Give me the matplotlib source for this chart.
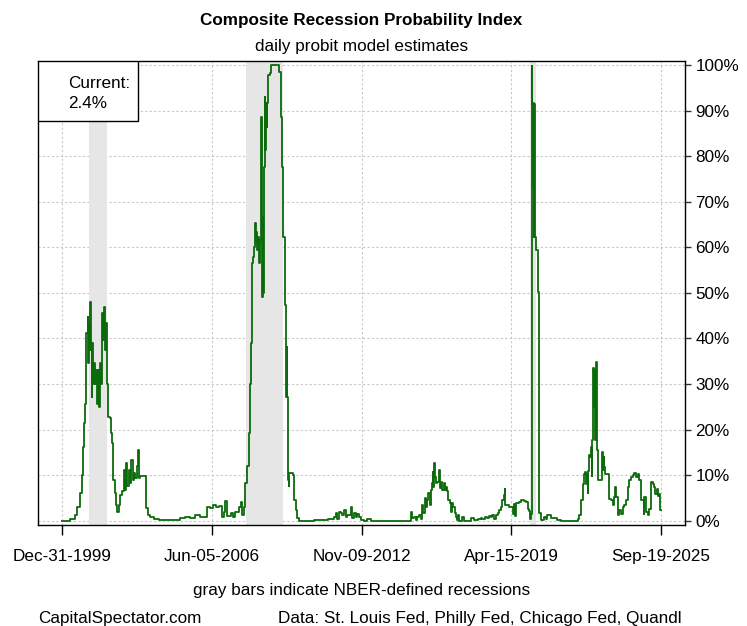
import matplotlib
matplotlib.use("Agg")
import matplotlib.pyplot as plt
from matplotlib.patches import Rectangle
import pandas as pd

plt.rcParams["font.family"] = ["Liberation Sans", "DejaVu Sans"]

TITLE = "Composite Recession Probability Index"
SUBTITLE = "daily probit model estimates"
XLABEL = "gray bars indicate NBER-defined recessions"
SOURCE_LEFT = "CapitalSpectator.com"
SOURCE_RIGHT = "Data: St. Louis Fed, Philly Fed, Chicago Fed, Quandl"

# probability estimates (%)
DATES = [
    "1999-12-31", "2000-05-09", "2000-07-27", "2000-08-22", "2000-10-13", "2000-11-08",
    "2000-11-24", "2000-12-15", "2000-12-31", "2001-01-16", "2001-02-06", "2001-02-17",
    "2001-02-27", "2001-03-10", "2001-03-20", "2001-03-31", "2001-04-10", "2001-04-21",
    "2001-05-06", "2001-05-22", "2001-06-07", "2001-06-22", "2001-07-08", "2001-07-24",
    "2001-08-09", "2001-08-24", "2001-09-09", "2001-09-25", "2001-10-11", "2001-10-21",
    "2001-11-06", "2001-11-22", "2001-12-07", "2001-12-28", "2002-01-18", "2002-02-08",
    "2002-03-01", "2002-03-16", "2002-04-06", "2002-04-27", "2002-05-18", "2002-06-08",
    "2002-07-04", "2002-07-30", "2002-08-25", "2002-09-09", "2002-09-30", "2002-10-21",
    "2002-11-11", "2002-12-02", "2002-12-23", "2003-01-13", "2003-02-03", "2003-02-24",
    "2003-03-17", "2003-04-07", "2003-04-23", "2003-05-14", "2003-08-11", "2003-09-06",
    "2003-10-18", "2003-12-20", "2004-02-26", "2005-01-31", "2005-04-19", "2005-07-07",
    "2005-09-23", "2005-12-11", "2006-03-25", "2006-05-17", "2006-06-28", "2006-08-09",
    "2006-09-25", "2006-11-16", "2006-12-12", "2007-01-07", "2007-02-02", "2007-03-27",
    "2007-05-02", "2007-06-13", "2007-08-05", "2007-08-31", "2007-09-26", "2007-10-22",
    "2007-11-17", "2007-12-13", "2008-01-09", "2008-01-24", "2008-02-04", "2008-02-20",
    "2008-03-17", "2008-04-02", "2008-04-12", "2008-04-23", "2008-05-03", "2008-05-19",
    "2008-06-04", "2008-06-19", "2008-06-30", "2008-07-10", "2008-07-21", "2008-07-26",
    "2008-07-31", "2008-08-06", "2008-08-16", "2008-08-21", "2008-09-01", "2008-09-11",
    "2008-09-22", "2008-10-02", "2008-10-13", "2008-10-23", "2008-11-08", "2008-11-29",
    "2008-12-14", "2009-04-09", "2009-04-25", "2009-05-21", "2009-06-11", "2009-07-02",
    "2009-07-28", "2009-08-13", "2009-08-18", "2009-08-23", "2009-08-28", "2009-09-13",
    "2009-09-23", "2009-10-04", "2009-12-06", "2009-12-15", "2010-01-11", "2010-02-07",
    "2010-03-04", "2010-10-24", "2011-02-15", "2011-06-10", "2011-09-02", "2011-09-29",
    "2011-10-26", "2011-11-20", "2011-12-16", "2012-01-12", "2012-02-06", "2012-03-04",
    "2012-03-31", "2012-05-21", "2012-06-06", "2012-07-12", "2012-08-08", "2012-09-04",
    "2012-09-29", "2012-10-25", "2012-12-16", "2013-02-08", "2013-03-31", "2014-12-20",
    "2015-01-05", "2015-02-10", "2015-03-09", "2015-04-04", "2015-04-30", "2015-05-26",
    "2015-06-22", "2015-07-08", "2015-07-28", "2015-08-13", "2015-09-09", "2015-09-24",
    "2015-10-15", "2015-10-30", "2015-11-15", "2015-12-01", "2015-12-12", "2015-12-21",
    "2016-01-06", "2016-01-22", "2016-02-12", "2016-03-09", "2016-03-25", "2016-04-15",
    "2016-05-01", "2016-05-26", "2016-06-11", "2016-07-03", "2016-07-19", "2016-08-03",
    "2016-08-24", "2016-09-08", "2016-09-19", "2016-10-05", "2016-10-21", "2016-11-10",
    "2016-12-01", "2016-12-23", "2017-01-01", "2017-01-23", "2017-03-11", "2017-04-05",
    "2017-07-19", "2017-09-09", "2017-11-02", "2017-12-23", "2018-01-19", "2018-02-24",
    "2018-03-28", "2018-05-03", "2018-05-29", "2018-06-25", "2018-07-20", "2018-08-16",
    "2018-09-12", "2018-10-07", "2018-11-02", "2018-11-29", "2018-12-15", "2019-01-04",
    "2019-01-15", "2019-03-13", "2019-05-05", "2019-05-15", "2019-05-30", "2019-06-15",
    "2019-06-26", "2019-08-17", "2019-09-12", "2019-11-03", "2019-11-30", "2019-12-27",
    "2020-01-21", "2020-02-06", "2020-02-17", "2020-02-27", "2020-03-03", "2020-03-10",
    "2020-03-17", "2020-03-24", "2020-03-31", "2020-04-07", "2020-04-14", "2020-04-21",
    "2020-04-28", "2020-05-10", "2020-05-31", "2020-07-01", "2020-07-21", "2020-09-11",
    "2020-10-05", "2020-11-03", "2020-12-25", "2021-04-09", "2021-05-31", "2022-01-23",
    "2022-02-19", "2022-03-16", "2022-04-11", "2022-05-08", "2022-05-24", "2022-06-13",
    "2022-06-29", "2022-07-15", "2022-07-26", "2022-08-04", "2022-08-20", "2022-09-05",
    "2022-09-15", "2022-09-26", "2022-10-06", "2022-10-17", "2022-11-01", "2022-11-12",
    "2022-11-22", "2022-12-03", "2022-12-14", "2022-12-24", "2022-12-30", "2023-02-19",
    "2023-03-02", "2023-03-18", "2023-04-03", "2023-04-12", "2023-04-28", "2023-06-05",
    "2023-06-30", "2023-07-26", "2023-08-22", "2023-09-16", "2023-10-02", "2023-10-18",
    "2023-11-09", "2023-12-04", "2023-12-30", "2024-01-26", "2024-02-20", "2024-03-18",
    "2024-04-14", "2024-05-09", "2024-06-04", "2024-07-01", "2024-07-26", "2024-08-22",
    "2024-09-18", "2024-10-13", "2024-11-08", "2024-12-05", "2024-12-21", "2024-12-30",
    "2025-01-26", "2025-02-22", "2025-03-19", "2025-04-14", "2025-05-11", "2025-06-05",
    "2025-06-21", "2025-07-13", "2025-07-30", "2025-08-23", "2025-09-08", "2025-09-19",
]
PROB = [
    0.0, 0.3, 1.2, 2.9, 6.0, 10.0,
    16.2, 21.4, 25.7, 41.1, 44.8, 34.5,
    43.3, 37.5, 48.1, 38.9, 27.2, 38.9,
    30.1, 34.5, 30.1, 33.1, 25.7, 33.1,
    25.0, 34.5, 30.1, 45.5, 39.6, 47.0,
    37.5, 43.3, 30.1, 22.8, 22.5, 19.2,
    17.0, 8.9, 6.0, 3.4, 2.0, 3.4,
    5.6, 6.4, 11.1, 6.7, 12.6, 7.5,
    11.1, 8.2, 13.3, 8.9, 10.4, 9.3,
    11.9, 15.5, 9.3, 9.8, 2.7, 1.2,
    0.9, 0.3, 0.1, 0.6, 0.9, 0.5,
    1.2, 0.9, 3.1, 2.7, 3.4, 3.1,
    3.2, 0.9, 2.0, 4.2, 1.0, 1.6,
    0.9, 2.0, 3.1, 4.0, 1.2, 3.1,
    8.2, 11.9, 19.2, 30.1, 38.9, 56.5,
    57.9, 60.1, 65.3, 60.9, 63.4, 59.4,
    62.3, 56.5, 61.6, 82.8, 88.7, 74.0,
    59.4, 49.2, 66.7, 49.9, 77.7, 93.1,
    81.4, 91.6, 86.5, 91.6, 97.8, 98.2,
    100.0, 100.0, 98.5, 88.7, 77.7, 62.3,
    47.3, 37.5, 27.2, 38.2, 27.2, 8.9,
    7.5, 10.4, 10.0, 4.5, 2.3, 0.5,
    0.0, 0.2, 0.1, 0.3, 0.9, 1.6,
    0.3, 2.0, 1.6, 1.2, 2.3, 0.9,
    1.2, 3.1, 0.5, 1.6, 0.9, 1.5,
    0.9, 0.1, 0.0, 0.3, 0.0, 2.0,
    0.5, 0.7, 0.1, 0.7, 1.2, 0.3,
    3.4, 1.6, 4.9, 3.1, 4.5, 6.0,
    3.4, 6.7, 8.2, 10.7, 7.4, 12.7,
    9.6, 8.2, 8.5, 11.1, 7.1, 8.5,
    6.7, 8.3, 6.7, 7.4, 6.4, 4.5,
    3.8, 3.1, 1.9, 3.8, 3.1, 1.6,
    0.9, 0.1, 1.2, 0.0, 0.7, 0.0,
    0.5, 0.1, 0.3, 0.5, 0.3, 0.9,
    0.5, 1.0, 0.7, 1.2, 0.3, 1.2,
    1.6, 2.3, 3.1, 4.5, 5.6, 6.9,
    3.4, 3.1, 3.1, 1.5, 3.6, 1.1,
    3.8, 4.0, 4.5, 4.2, 4.0, 2.6,
    2.2, 0.4, 1.5, 7.3, 99.7, 91.5,
    73.3, 91.7, 62.3, 91.5, 62.3, 90.0,
    62.3, 59.4, 50.2, 1.6, 0.1, 0.9,
    0.3, 1.2, 0.5, 0.1, 0.0, 0.0,
    0.4, 1.2, 4.5, 8.1, 10.3, 10.7,
    8.1, 10.3, 6.0, 11.0, 14.4, 14.0,
    16.2, 9.8, 17.7, 33.5, 25.0, 33.1,
    17.7, 34.9, 30.2, 15.5, 8.9, 8.9,
    15.1, 11.1, 14.0, 11.8, 10.3, 10.3,
    4.8, 4.5, 3.4, 5.1, 7.4, 5.1,
    1.2, 2.3, 1.5, 3.0, 3.4, 4.5,
    7.4, 8.9, 9.5, 10.0, 10.5, 9.6,
    10.3, 8.9, 4.5, 4.5, 1.5, 5.1,
    1.9, 1.2, 2.6, 8.5, 8.1, 7.4,
    5.9, 7.0, 5.5, 5.9, 2.3, 2.4,
]

RECESSIONS = [
    ("2001-03-01", "2001-11-30"),
    ("2007-12-01", "2009-06-30"),
    ("2020-02-01", "2020-04-30"),
]

TICK_DATES = ["1999-12-31", "2006-06-05", "2012-11-09", "2019-04-15", "2025-09-19"]
Y_TICKS = list(range(0, 101, 10))

FS = 12.3

series = pd.Series(PROB, index=pd.to_datetime(DATES))

fig = plt.figure(figsize=(7.47, 6.26), dpi=100)
W, H = 747, 626
left, right, top, bottom = 38, 685, 61, 524.5
ax = fig.add_axes([left / W, 1 - bottom / H, (right - left) / W, (bottom - top) / H])

for start, end in RECESSIONS:
    ax.axvspan(pd.Timestamp(start), pd.Timestamp(end), color="#e6e6e6", lw=0, zorder=1)

ax.plot(series.index, series.values, color="#0b6b0b", lw=1.3,
        drawstyle="steps-post", zorder=2)

t0, t1 = series.index[0], series.index[-1]
span = t1 - t0
ax.set_xlim(t0 - span * 0.04, t1 + span * 0.04)
ax.set_ylim(-0.85, 100.9)

ticks = pd.to_datetime(TICK_DATES)
ax.set_xticks(ticks)
ax.set_xticklabels([t.strftime("%b-%d-%Y") for t in ticks], fontsize=FS)
ax.yaxis.tick_right()
ax.set_yticks(Y_TICKS)
ax.set_yticklabels([f"{v}%" for v in Y_TICKS], fontsize=FS)
ax.tick_params(axis="x", length=7.5, width=1, pad=10, color="black")
ax.tick_params(axis="y", length=4.5, width=1, pad=3, color="#333333")

ax.set_axisbelow(True)
ax.grid(True, color="#c8c8c8", linestyle=(0, (2, 2)), lw=0.8)
for sp in ax.spines.values():
    sp.set_color("black")
    sp.set_linewidth(1.0)

# "current" box in the upper left corner
bw = 100 / (right - left)
bh = 60 / (bottom - top)
ax.add_patch(Rectangle((0, 1 - bh), bw, bh, transform=ax.transAxes,
                       facecolor="white", edgecolor="black", lw=1.0, zorder=4))
ax.text(30 / (right - left), 1 - 22 / (bottom - top), "Current:",
        transform=ax.transAxes, fontsize=FS, va="center", ha="left", zorder=5)
ax.text(30 / (right - left), 1 - 42 / (bottom - top), f"{PROB[-1]:.1f}%",
        transform=ax.transAxes, fontsize=FS, va="center", ha="left", zorder=5)

cx = (left + right) / 2 / W
fig.text(cx, 1 - 20 / H, TITLE, ha="center", va="center", fontsize=FS, fontweight="bold")
fig.text(cx, 1 - 46 / H, SUBTITLE, ha="center", va="center", fontsize=FS)
fig.text(cx, 1 - 590 / H, XLABEL, ha="center", va="center", fontsize=FS)
fig.text(120 / W, 1 - 619 / H, SOURCE_LEFT, ha="center", va="center", fontsize=FS)
fig.text(480 / W, 1 - 619 / H, SOURCE_RIGHT, ha="center", va="center", fontsize=FS)

fig.savefig("out.png", dpi=100)
